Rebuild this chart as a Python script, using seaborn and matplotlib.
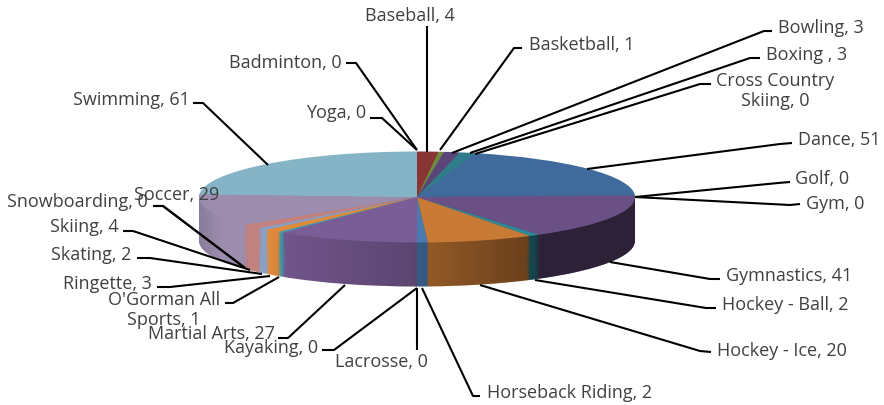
import numpy as np
import seaborn as sns
import matplotlib
matplotlib.use('Agg')
import matplotlib.pyplot as plt
from matplotlib.patches import Polygon

sports = ['Badminton', 'Baseball', 'Basketball', 'Bowling', 'Boxing ', 'Cross Country\nSkiing', 'Dance', 'Golf', 'Gym',
          'Gymnastics', 'Hockey - Ball', 'Hockey - Ice', 'Horseback Riding', 'Kayaking', 'Lacrosse', 'Martial Arts',
          "O'Gorman All\nSports", 'Ringette', 'Skating', 'Skiing', 'Snowboarding', 'Soccer', 'Swimming', 'Yoga']
counts = [0, 4, 1, 3, 3, 0, 51, 0, 0, 41, 2, 20, 2, 0, 0, 27, 1, 3, 2, 4, 0, 29, 61, 0]
colors = ['#3f69a0', '#8a3535', '#6e8a3a', '#5a4478', '#2f7d8a', '#3f69a0', '#3f6a9b', '#c97a35', '#6a5085',
          '#6a5085', '#2e8a9a', '#c97a35', '#4a7ab0', '#b04b48', '#8ca53f', '#7a5c96',
          '#3f9cb0', '#e08a3c', '#8aa0c4', '#c0817f', '#a8b97f', '#9c8cae', '#85b4c6', '#e0a070']

# label anchor in pixels (x, y, ha), same order as sports
label_pos = [(342, 63, 'right'), (455, 16, 'right'), (529, 45, 'left'), (778, 28, 'left'), (766, 55, 'left'),
             (775, 91, 'center'), (798, 140, 'left'), (795, 179, 'left'), (806, 204, 'left'),
             (726, 276, 'left'), (722, 305, 'left'), (717, 351, 'left'), (487, 393, 'left'), (318, 348, 'right'),
             (428, 362, 'right'), (275, 334, 'right'),
             (164, 310, 'center'), (152, 284, 'right'), (131, 255, 'right'), (119, 227, 'right'), (148, 202, 'right'),
             (219, 195, 'right'), (190, 100, 'right'), (366, 113, 'right')]

# leader lines in pixels, same order as sports
leaders = [[(346, 63), (356, 63), (417, 150)], [(427, 26), (427, 152)], [(522, 48), (514, 48), (440, 150)],
           [(772, 31), (764, 31), (452, 153)], [(760, 58), (750, 58), (470, 153)],
           [(711, 84), (700, 84), (475, 154)], [(792, 143), (780, 144), (587, 169)],
           [(790, 182), (778, 183), (635, 197)], [(800, 204), (790, 205), (635, 197)],
           [(720, 279), (710, 279), (610, 262)], [(716, 308), (706, 308), (535, 280)],
           [(711, 352), (700, 351), (480, 285)], [(480, 396), (473, 396), (422, 288)],
           [(322, 350), (334, 350), (417, 288)], [(417, 350), (417, 288)], [(278, 338), (288, 338), (345, 285)],
           [(225, 303), (233, 303), (279, 277)], [(157, 287), (170, 287), (270, 276)],
           [(137, 258), (150, 258), (262, 274)], [(123, 231), (133, 231), (250, 270)],
           [(153, 206), (163, 206), (245, 268)], [(153, 206), (163, 206), (245, 268)],
           [(193, 103), (203, 103), (268, 165)], [(370, 118), (382, 118), (417, 150)]]

W, H = 884, 405
cx, cy, rx, ry, depth = 417, 197, 218, 45.5, 44

sns.set_theme(style='white')
plt.rcParams['font.family'] = ['Open Sans', 'DejaVu Sans']
palette = sns.color_palette(colors)

fig = plt.figure(figsize=(W / 100, H / 100), dpi=100)
ax = fig.add_axes([0, 0, 1, 1])

d = depth / ry
# side of the pie: same pie stacked downwards
for off in np.linspace(d, 0.02, 45):
    ax.pie(counts, colors=palette, startangle=90, counterclock=False, center=(0, -off),
           wedgeprops={'linewidth': 0})
ax.set_aspect('auto')

# left to right shading over the side
shade_x = np.linspace(-1, 1, 300)
shade = np.interp(shade_x, [-1, -0.9, -0.68, -0.6, 0, 0.5, 0.58, 1], [0.12, 0, 0, 0.08, 0.25, 0.47, 0.58, 0.58])
rgba = np.zeros((1, 300, 4))
rgba[0, :, 3] = shade
img = ax.imshow(rgba, extent=(-1, 1, -d - 1.1, 0), aspect='auto', zorder=1.5)
xs = np.linspace(-1, 1, 300)
clip = Polygon(np.column_stack([np.r_[xs, xs[::-1]],
                                np.r_[-np.sqrt(1 - xs**2) - d, np.zeros(300)]]),
               transform=ax.transData, fill=False, linewidth=0)
ax.add_patch(clip)
img.set_clip_path(clip)

# top face
ax.pie(counts, colors=palette, startangle=90, counterclock=False, wedgeprops={'linewidth': 0, 'zorder': 2})
ax.set_aspect('auto')
ax.set_xlim(-cx / rx, (W - cx) / rx)
ax.set_ylim(-(H - cy) / ry, cy / ry)

# labels and leaders go on a pixel overlay
over = fig.add_axes([0, 0, 1, 1], zorder=5)
over.set_xlim(0, W)
over.set_ylim(H, 0)
over.axis('off')
for name, n, pos, path in zip(sports, counts, label_pos, leaders):
    px, py = zip(*path)
    over.plot(px, py, color='black', lw=1.5, solid_capstyle='butt')
    over.text(pos[0], pos[1], f'{name}, {n}', ha=pos[2], va='center', color='#404040', fontsize=13,
              linespacing=1.1)

fig.savefig('out.png', dpi=100)
